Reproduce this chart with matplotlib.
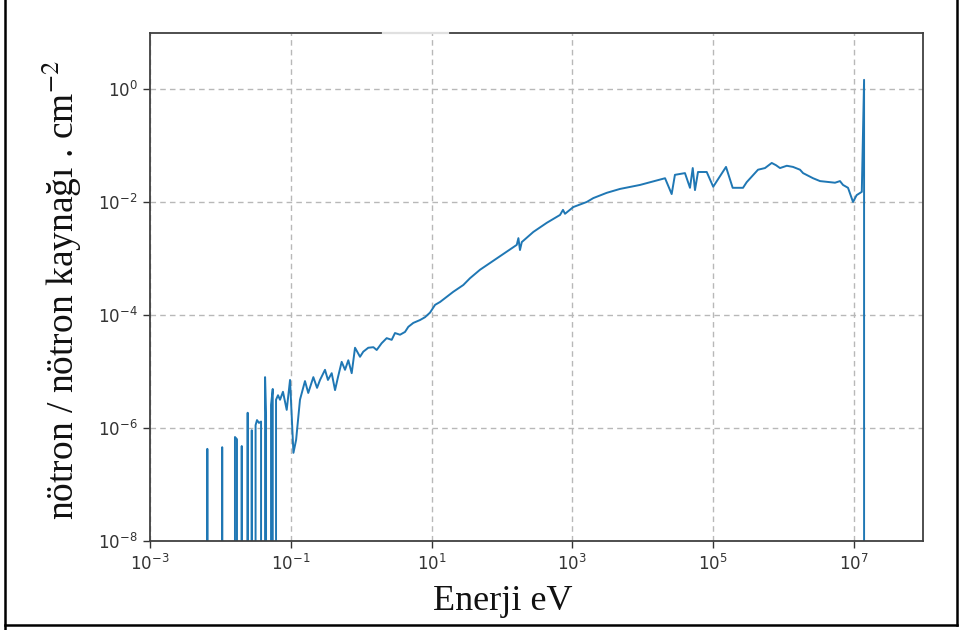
import matplotlib
matplotlib.use("Agg")
import matplotlib.pyplot as plt
from matplotlib.ticker import FixedLocator, NullLocator, LogFormatterSciNotation
from matplotlib.lines import Line2D

# Energy (eV) and flux values (0 = below axis)
energy = [
    6.24e-3, 6.52e-3, 6.78e-3,
    1.02e-2, 1.06e-2, 1.11e-2,
    1.51e-2, 1.61e-2, 1.72e-2, 1.78e-2,
    1.93e-2, 2.01e-2, 2.09e-2,
    2.35e-2, 2.44e-2, 2.55e-2,
    2.68e-2, 2.79e-2, 2.90e-2,
    3.16e-2, 3.31e-2, 3.53e-2, 3.78e-2, 3.96e-2,
    4.16e-2, 4.31e-2, 4.45e-2, 4.59e-2,
    5.07e-2, 5.24e-2, 5.54e-2, 5.77e-2,
    5.97e-2, 6.17e-2, 6.58e-2,
    7.03e-2, 7.74e-2, 8.75e-2, 9.75e-2, 0.109, 0.119, 0.135, 0.159, 0.177,
    0.209, 0.236, 0.260, 0.306, 0.337, 0.381, 0.425, 0.468, 0.528, 0.589,
    0.656, 0.733, 0.817, 0.962, 1.07, 1.26, 1.49, 1.66, 1.95, 2.30, 2.71,
    3.02, 3.56, 4.19, 4.67, 5.50, 6.84, 8.05, 9.49, 11.2, 13.2, 20.3, 28.2,
    35.1, 48.7, 67.6, 99.1, 162, 171, 180, 191, 279, 432, 667, 735, 785,
    1030, 1600, 1980, 3070, 4740, 9120, 2.07e4, 2.57e4, 2.86e4, 3.97e4,
    4.68e4, 5.12e4, 5.51e4, 6.08e4, 8.09e4, 1.00e5, 1.52e5, 1.89e5, 2.65e5,
    2.99e5, 4.33e5, 5.44e5, 6.78e5, 7.80e5, 8.89e5, 1.11e6, 1.36e6, 1.71e6,
    1.89e6, 2.62e6, 3.29e6, 5.37e6, 6.32e6, 6.98e6, 8.22e6, 9.68e6, 1.09e7,
    1.29e7, 1.39e7, 1.41e7,
]
flux = [
    0, 4.27e-7, 0,
    0, 4.57e-7, 0,
    0, 6.92e-7, 6.31e-7, 0,
    0, 4.79e-7, 0,
    0, 1.86e-6, 0,
    0, 9.12e-7, 0,
    1.12e-6, 1.38e-6, 1.23e-6, 1.30e-6, 0,
    0, 7.94e-6, 1.70e-6, 0,
    0, 2.57e-6, 4.90e-6, 0,
    0, 3.16e-6, 3.80e-6,
    3.16e-6, 4.37e-6, 2.09e-6, 7.08e-6, 3.63e-7, 6.17e-7, 3.16e-6, 6.76e-6,
    4.17e-6, 7.94e-6, 5.13e-6, 7.08e-6, 1.07e-5, 7.08e-6, 9.33e-6, 4.68e-6,
    7.94e-6, 1.48e-5, 1.07e-5, 1.58e-5, 9.33e-6, 2.63e-5, 1.82e-5, 2.24e-5,
    2.63e-5, 2.69e-5, 2.40e-5, 3.16e-5, 3.89e-5, 3.63e-5, 4.79e-5, 4.47e-5,
    5.01e-5, 6.17e-5, 7.24e-5, 8.13e-5, 9.12e-5, 1.10e-4, 1.51e-4, 1.70e-4,
    2.57e-4, 3.39e-4, 4.47e-4, 6.31e-4, 8.32e-4, 1.15e-3, 1.74e-3, 2.29e-3,
    1.41e-3, 1.95e-3, 2.95e-3, 4.27e-3, 5.89e-3, 7.24e-3, 6.17e-3, 8.13e-3,
    1.00e-2, 1.17e-2, 1.45e-2, 1.70e-2, 2.00e-2, 2.63e-2, 1.38e-2, 3.02e-2,
    3.24e-2, 1.78e-2, 3.98e-2, 1.62e-2, 3.39e-2, 3.39e-2, 1.86e-2, 4.17e-2,
    1.78e-2, 1.78e-2, 2.24e-2, 3.72e-2, 3.98e-2, 4.90e-2, 4.47e-2, 3.98e-2,
    4.37e-2, 4.17e-2, 3.72e-2, 3.24e-2, 2.63e-2, 2.34e-2, 2.19e-2, 2.34e-2,
    2.00e-2, 1.78e-2, 1.00e-2, 1.32e-2, 1.51e-2, 1.45, 0,
]

xticks = [1e-3, 1e-1, 1e1, 1e3, 1e5, 1e7]
yticks = [1e-8, 1e-6, 1e-4, 1e-2, 1e0]
xlabel = "Enerji eV"
ylabel = "nötron / nötron kaynağı . cm$^{-2}$"

W, H = 961, 630
fig = plt.figure(figsize=(W / 100, H / 100), dpi=100)
ax = fig.add_axes([150 / W, 1 - 541 / H, (923 - 150) / W, (541 - 33) / H])

ax.plot(energy, flux, color="#1f77b4", lw=1.4)
ax.set_xscale("log", nonpositive="clip")
ax.set_yscale("log", nonpositive="clip")
ax.set_xlim(1e-3, 10 ** 7.98)
ax.set_ylim(1e-8, 10 ** 0.99)

ax.xaxis.set_major_locator(FixedLocator(xticks))
ax.yaxis.set_major_locator(FixedLocator(yticks))
ax.xaxis.set_minor_locator(NullLocator())
ax.yaxis.set_minor_locator(NullLocator())
ax.xaxis.set_major_formatter(LogFormatterSciNotation())
ax.yaxis.set_major_formatter(LogFormatterSciNotation())

ax.grid(True, which="major", linestyle=(0, (4, 3)), color="#b8b8b8", lw=1.0)
ax.tick_params(axis="both", which="major", labelsize=12, labelcolor="#333333",
               color="#333333", length=5, width=1.0, direction="out", pad=4)
for s in ax.spines.values():
    s.set_color("#404040")
    s.set_linewidth(1.3)

# small gap artifact in top spine
fig.add_artist(Line2D([383 / W, 448 / W], [1 - 33 / H, 1 - 33 / H],
                      color="#e0e0e0", lw=1.6, transform=fig.transFigure))

fig.text(503 / W, 1 - 601 / H, xlabel, family="Liberation Serif", fontsize=26,
         ha="center", va="center", color="#111111")
fig.text(62 / W, 1 - 290 / H, ylabel, family="Liberation Serif", fontsize=27,
         rotation=90, ha="center", va="center", color="#111111",
         math_fontfamily="stix")

# outer frame of the screenshot
for xs, ys in [([5 / W, 5 / W], [0, 1]),
               ([5 / W, 957 / W], [1 - 625 / H, 1 - 625 / H]),
               ([957 / W, 957 / W], [1 - 625 / H, 1])]:
    fig.add_artist(Line2D(xs, ys, color="black", lw=1.8, transform=fig.transFigure))

fig.savefig("out.png", dpi=100)
